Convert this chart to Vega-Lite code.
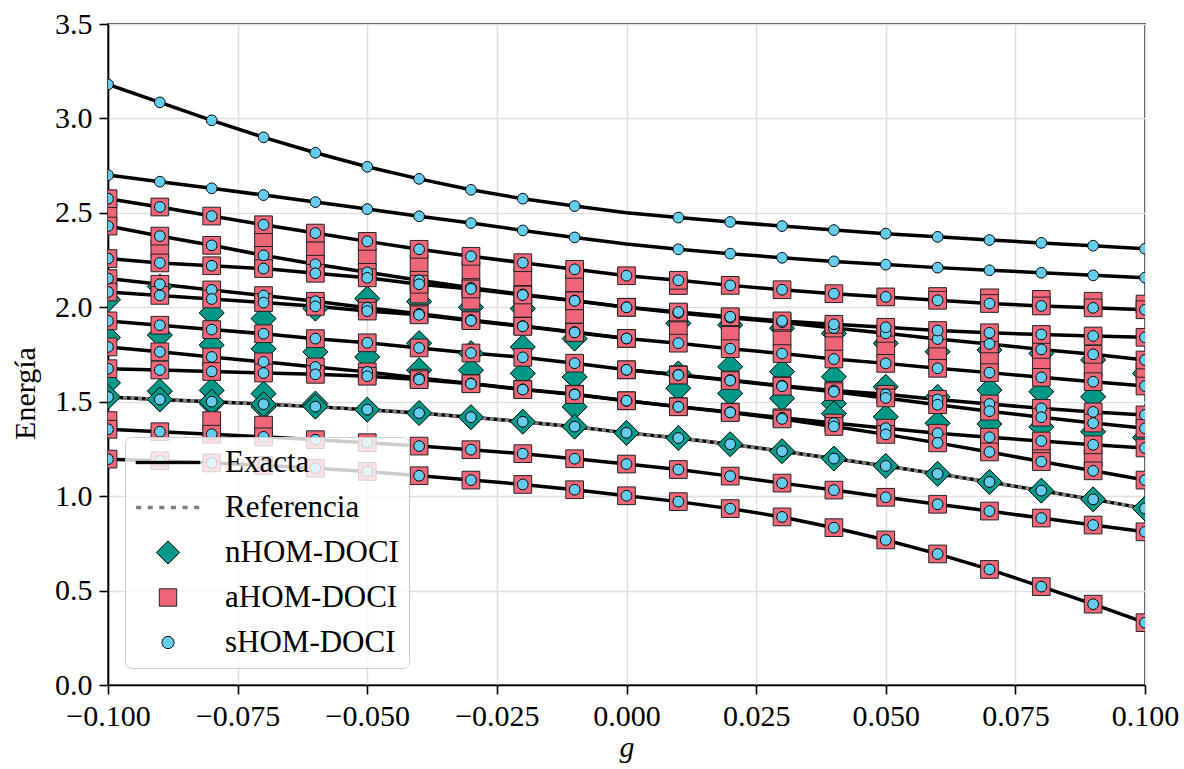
{
  "$schema": "https://vega.github.io/schema/vega-lite/v6.json",
  "width": 1037,
  "height": 661,
  "autosize": {"type": "none"},
  "padding": {"left": 108, "top": 24, "right": 39, "bottom": 84},
  "background": "white",
  "config": {
    "view": {"stroke": "black", "strokeWidth": 1.6},
    "axis": {
      "labelFont": "Liberation Serif", "labelFontSize": 30, "labelColor": "black",
      "titleFont": "Liberation Serif", "titleFontSize": 30, "titleFontWeight": "normal", "titleColor": "black",
      "domainColor": "black", "domainWidth": 1.6,
      "tickColor": "black", "tickWidth": 1.6, "tickSize": 9,
      "labelPadding": 7,
      "grid": true, "gridColor": "#e0e0e0", "gridWidth": 1.6
    }
  },
  "datasets": {
    "exact": [
      {"l":"a","g":-0.1,"e":3.180},{"l":"a","g":-0.09,"e":3.085},{"l":"a","g":-0.08,"e":2.990},{"l":"a","g":-0.07,"e":2.900},{"l":"a","g":-0.06,"e":2.818},{"l":"a","g":-0.05,"e":2.744},{"l":"a","g":-0.04,"e":2.680},{"l":"a","g":-0.03,"e":2.622},{"l":"a","g":-0.02,"e":2.575},{"l":"a","g":-0.01,"e":2.536},{"l":"a","g":0,"e":2.500},{"l":"a","g":0.01,"e":2.475},{"l":"a","g":0.02,"e":2.452},{"l":"a","g":0.03,"e":2.430},{"l":"a","g":0.04,"e":2.409},{"l":"a","g":0.05,"e":2.390},{"l":"a","g":0.06,"e":2.373},{"l":"a","g":0.07,"e":2.356},{"l":"a","g":0.08,"e":2.341},{"l":"a","g":0.09,"e":2.326},{"l":"a","g":0.1,"e":2.310},
      {"l":"b","g":-0.1,"e":2.700},{"l":"b","g":-0.09,"e":2.665},{"l":"b","g":-0.08,"e":2.630},{"l":"b","g":-0.07,"e":2.594},{"l":"b","g":-0.06,"e":2.557},{"l":"b","g":-0.05,"e":2.520},{"l":"b","g":-0.04,"e":2.482},{"l":"b","g":-0.03,"e":2.446},{"l":"b","g":-0.02,"e":2.407},{"l":"b","g":-0.01,"e":2.370},{"l":"b","g":0,"e":2.335},{"l":"b","g":0.01,"e":2.307},{"l":"b","g":0.02,"e":2.284},{"l":"b","g":0.03,"e":2.262},{"l":"b","g":0.04,"e":2.243},{"l":"b","g":0.05,"e":2.226},{"l":"b","g":0.06,"e":2.210},{"l":"b","g":0.07,"e":2.196},{"l":"b","g":0.08,"e":2.183},{"l":"b","g":0.09,"e":2.169},{"l":"b","g":0.1,"e":2.157},
      {"l":"c","g":-0.1,"e":2.575},{"l":"c","g":-0.09,"e":2.531},{"l":"c","g":-0.08,"e":2.483},{"l":"c","g":-0.07,"e":2.437},{"l":"c","g":-0.06,"e":2.393},{"l":"c","g":-0.05,"e":2.349},{"l":"c","g":-0.04,"e":2.307},{"l":"c","g":-0.03,"e":2.270},{"l":"c","g":-0.02,"e":2.236},{"l":"c","g":-0.01,"e":2.201},{"l":"c","g":0,"e":2.167},{"l":"c","g":0.01,"e":2.143},{"l":"c","g":0.02,"e":2.116},{"l":"c","g":0.03,"e":2.093},{"l":"c","g":0.04,"e":2.072},{"l":"c","g":0.05,"e":2.055},{"l":"c","g":0.06,"e":2.037},{"l":"c","g":0.07,"e":2.020},{"l":"c","g":0.08,"e":2.007},{"l":"c","g":0.09,"e":1.997},{"l":"c","g":0.1,"e":1.987},
      {"l":"d","g":-0.1,"e":2.430},{"l":"d","g":-0.09,"e":2.377},{"l":"d","g":-0.08,"e":2.328},{"l":"d","g":-0.07,"e":2.275},{"l":"d","g":-0.06,"e":2.228},{"l":"d","g":-0.05,"e":2.185},{"l":"d","g":-0.04,"e":2.143},{"l":"d","g":-0.03,"e":2.104},{"l":"d","g":-0.02,"e":2.068},{"l":"d","g":-0.01,"e":2.036},{"l":"d","g":0,"e":2.000},{"l":"d","g":0.01,"e":1.970},{"l":"d","g":0.02,"e":1.945},{"l":"d","g":0.03,"e":1.920},{"l":"d","g":0.04,"e":1.890},{"l":"d","g":0.05,"e":1.862},{"l":"d","g":0.06,"e":1.832},{"l":"d","g":0.07,"e":1.806},{"l":"d","g":0.08,"e":1.777},{"l":"d","g":0.09,"e":1.751},{"l":"d","g":0.1,"e":1.721},
      {"l":"e","g":-0.1,"e":2.258},{"l":"e","g":-0.09,"e":2.235},{"l":"e","g":-0.08,"e":2.220},{"l":"e","g":-0.07,"e":2.205},{"l":"e","g":-0.06,"e":2.180},{"l":"e","g":-0.05,"e":2.156},{"l":"e","g":-0.04,"e":2.122},{"l":"e","g":-0.03,"e":2.097},{"l":"e","g":-0.02,"e":2.065},{"l":"e","g":-0.01,"e":2.034},{"l":"e","g":0,"e":2.000},{"l":"e","g":0.01,"e":1.975},{"l":"e","g":0.02,"e":1.950},{"l":"e","g":0.03,"e":1.928},{"l":"e","g":0.04,"e":1.910},{"l":"e","g":0.05,"e":1.894},{"l":"e","g":0.06,"e":1.877},{"l":"e","g":0.07,"e":1.865},{"l":"e","g":0.08,"e":1.856},{"l":"e","g":0.09,"e":1.848},{"l":"e","g":0.1,"e":1.841},
      {"l":"f","g":-0.1,"e":2.152},{"l":"f","g":-0.09,"e":2.122},{"l":"f","g":-0.08,"e":2.092},{"l":"f","g":-0.07,"e":2.062},{"l":"f","g":-0.06,"e":2.032},{"l":"f","g":-0.05,"e":1.998},{"l":"f","g":-0.04,"e":1.966},{"l":"f","g":-0.03,"e":1.933},{"l":"f","g":-0.02,"e":1.901},{"l":"f","g":-0.01,"e":1.869},{"l":"f","g":0,"e":1.835},{"l":"f","g":0.01,"e":1.810},{"l":"f","g":0.02,"e":1.781},{"l":"f","g":0.03,"e":1.755},{"l":"f","g":0.04,"e":1.726},{"l":"f","g":0.05,"e":1.703},{"l":"f","g":0.06,"e":1.677},{"l":"f","g":0.07,"e":1.654},{"l":"f","g":0.08,"e":1.629},{"l":"f","g":0.09,"e":1.606},{"l":"f","g":0.1,"e":1.583},
      {"l":"h","g":-0.1,"e":2.081},{"l":"h","g":-0.09,"e":2.063},{"l":"h","g":-0.08,"e":2.044},{"l":"h","g":-0.07,"e":2.025},{"l":"h","g":-0.06,"e":2.005},{"l":"h","g":-0.05,"e":1.980},{"l":"h","g":-0.04,"e":1.960},{"l":"h","g":-0.03,"e":1.929},{"l":"h","g":-0.02,"e":1.899},{"l":"h","g":-0.01,"e":1.867},{"l":"h","g":0,"e":1.835},
      {"l":"i","g":-0.1,"e":1.928},{"l":"i","g":-0.09,"e":1.905},{"l":"i","g":-0.08,"e":1.882},{"l":"i","g":-0.07,"e":1.860},{"l":"i","g":-0.06,"e":1.834},{"l":"i","g":-0.05,"e":1.812},{"l":"i","g":-0.04,"e":1.785},{"l":"i","g":-0.03,"e":1.758},{"l":"i","g":-0.02,"e":1.735},{"l":"i","g":-0.01,"e":1.704},{"l":"i","g":0,"e":1.669},{"l":"i","g":0.01,"e":1.643},{"l":"i","g":0.02,"e":1.615},{"l":"i","g":0.03,"e":1.585},{"l":"i","g":0.04,"e":1.560},{"l":"i","g":0.05,"e":1.539},{"l":"i","g":0.06,"e":1.512},{"l":"i","g":0.07,"e":1.488},{"l":"i","g":0.08,"e":1.465},{"l":"i","g":0.09,"e":1.446},{"l":"i","g":0.1,"e":1.430},
      {"l":"j","g":0,"e":1.669},{"l":"j","g":0.01,"e":1.641},{"l":"j","g":0.02,"e":1.612},{"l":"j","g":0.03,"e":1.582},{"l":"j","g":0.04,"e":1.553},{"l":"j","g":0.05,"e":1.520},{"l":"j","g":0.06,"e":1.484},{"l":"j","g":0.07,"e":1.450},{"l":"j","g":0.08,"e":1.418},{"l":"j","g":0.09,"e":1.387},{"l":"j","g":0.1,"e":1.359},
      {"l":"k","g":-0.1,"e":1.790},{"l":"k","g":-0.09,"e":1.764},{"l":"k","g":-0.08,"e":1.737},{"l":"k","g":-0.07,"e":1.711},{"l":"k","g":-0.06,"e":1.684},{"l":"k","g":-0.05,"e":1.658},{"l":"k","g":-0.04,"e":1.625},{"l":"k","g":-0.03,"e":1.597},{"l":"k","g":-0.02,"e":1.566},{"l":"k","g":-0.01,"e":1.540},{"l":"k","g":0,"e":1.505},{"l":"k","g":0.01,"e":1.474},{"l":"k","g":0.02,"e":1.445},{"l":"k","g":0.03,"e":1.415},{"l":"k","g":0.04,"e":1.387},{"l":"k","g":0.05,"e":1.360},{"l":"k","g":0.06,"e":1.333},{"l":"k","g":0.07,"e":1.312},{"l":"k","g":0.08,"e":1.292},{"l":"k","g":0.09,"e":1.272},{"l":"k","g":0.1,"e":1.255},
      {"l":"m","g":-0.1,"e":1.675},{"l":"m","g":-0.09,"e":1.668},{"l":"m","g":-0.08,"e":1.660},{"l":"m","g":-0.07,"e":1.652},{"l":"m","g":-0.06,"e":1.645},{"l":"m","g":-0.05,"e":1.635},{"l":"m","g":-0.04,"e":1.617},{"l":"m","g":-0.03,"e":1.595},{"l":"m","g":-0.02,"e":1.564},{"l":"m","g":-0.01,"e":1.538},{"l":"m","g":0,"e":1.505},{"l":"m","g":0.01,"e":1.473},{"l":"m","g":0.02,"e":1.443},{"l":"m","g":0.03,"e":1.409},{"l":"m","g":0.04,"e":1.369},{"l":"m","g":0.05,"e":1.327},{"l":"m","g":0.06,"e":1.282},{"l":"m","g":0.07,"e":1.234},{"l":"m","g":0.08,"e":1.183},{"l":"m","g":0.09,"e":1.134},{"l":"m","g":0.1,"e":1.085},
      {"l":"r","g":-0.1,"e":1.525},{"l":"r","g":-0.09,"e":1.512},{"l":"r","g":-0.08,"e":1.500},{"l":"r","g":-0.07,"e":1.487},{"l":"r","g":-0.06,"e":1.474},{"l":"r","g":-0.05,"e":1.458},{"l":"r","g":-0.04,"e":1.440},{"l":"r","g":-0.03,"e":1.418},{"l":"r","g":-0.02,"e":1.394},{"l":"r","g":-0.01,"e":1.368},{"l":"r","g":0,"e":1.335},{"l":"r","g":0.01,"e":1.308},{"l":"r","g":0.02,"e":1.275},{"l":"r","g":0.03,"e":1.238},{"l":"r","g":0.04,"e":1.199},{"l":"r","g":0.05,"e":1.160},{"l":"r","g":0.06,"e":1.118},{"l":"r","g":0.07,"e":1.075},{"l":"r","g":0.08,"e":1.029},{"l":"r","g":0.09,"e":0.983},{"l":"r","g":0.1,"e":0.935},
      {"l":"y","g":-0.1,"e":1.354},{"l":"y","g":-0.09,"e":1.341},{"l":"y","g":-0.08,"e":1.328},{"l":"y","g":-0.07,"e":1.314},{"l":"y","g":-0.06,"e":1.299},{"l":"y","g":-0.05,"e":1.283},{"l":"y","g":-0.04,"e":1.265},{"l":"y","g":-0.03,"e":1.246},{"l":"y","g":-0.02,"e":1.225},{"l":"y","g":-0.01,"e":1.198},{"l":"y","g":0,"e":1.170},{"l":"y","g":0.01,"e":1.141},{"l":"y","g":0.02,"e":1.106},{"l":"y","g":0.03,"e":1.069},{"l":"y","g":0.04,"e":1.032},{"l":"y","g":0.05,"e":0.994},{"l":"y","g":0.06,"e":0.957},{"l":"y","g":0.07,"e":0.921},{"l":"y","g":0.08,"e":0.884},{"l":"y","g":0.09,"e":0.847},{"l":"y","g":0.1,"e":0.811},
      {"l":"z","g":-0.1,"e":1.196},{"l":"z","g":-0.09,"e":1.187},{"l":"z","g":-0.08,"e":1.176},{"l":"z","g":-0.07,"e":1.163},{"l":"z","g":-0.06,"e":1.148},{"l":"z","g":-0.05,"e":1.131},{"l":"z","g":-0.04,"e":1.108},{"l":"z","g":-0.03,"e":1.085},{"l":"z","g":-0.02,"e":1.062},{"l":"z","g":-0.01,"e":1.034},{"l":"z","g":0,"e":1.002},{"l":"z","g":0.01,"e":0.971},{"l":"z","g":0.02,"e":0.934},{"l":"z","g":0.03,"e":0.890},{"l":"z","g":0.04,"e":0.833},{"l":"z","g":0.05,"e":0.768},{"l":"z","g":0.06,"e":0.694},{"l":"z","g":0.07,"e":0.612},{"l":"z","g":0.08,"e":0.521},{"l":"z","g":0.09,"e":0.428},{"l":"z","g":0.1,"e":0.330}
    ],
    "dia": [
      {"g":-0.1,"e":2.04},{"g":-0.1,"e":1.84},{"g":-0.1,"e":1.60},
      {"g":-0.09,"e":2.11},{"g":-0.09,"e":1.853},{"g":-0.09,"e":1.556},
      {"g":-0.08,"e":1.97},{"g":-0.08,"e":1.80},{"g":-0.08,"e":1.56},{"g":-0.08,"e":1.49},
      {"g":-0.07,"e":1.94},{"g":-0.07,"e":1.78},{"g":-0.07,"e":1.543},{"g":-0.07,"e":1.473},
      {"g":-0.06,"e":1.993},{"g":-0.06,"e":1.764},{"g":-0.06,"e":1.49},
      {"g":-0.05,"e":2.046},{"g":-0.05,"e":1.737},
      {"g":-0.04,"e":2.03},{"g":-0.04,"e":1.81},{"g":-0.04,"e":1.667},
      {"g":-0.03,"e":2.0},{"g":-0.03,"e":1.757},{"g":-0.03,"e":1.667},
      {"g":-0.02,"e":1.993},{"g":-0.02,"e":1.79},{"g":-0.02,"e":1.65},
      {"g":-0.01,"e":1.834},{"g":-0.01,"e":1.631},{"g":-0.01,"e":1.473},
      {"g":0.01,"e":1.915},{"g":0.01,"e":1.65},{"g":0.01,"e":1.571},
      {"g":0.02,"e":1.906},{"g":0.02,"e":1.685},{"g":0.02,"e":1.544},
      {"g":0.03,"e":1.889},{"g":0.03,"e":1.659},{"g":0.03,"e":1.518},
      {"g":0.04,"e":1.862},{"g":0.04,"e":1.632},{"g":0.04,"e":1.49},{"g":0.04,"e":1.437},
      {"g":0.05,"e":1.809},{"g":0.05,"e":1.579},{"g":0.05,"e":1.42},
      {"g":0.06,"e":1.765},{"g":0.06,"e":1.526},{"g":0.06,"e":1.386},
      {"g":0.07,"e":1.774},{"g":0.07,"e":1.562},{"g":0.07,"e":1.382},
      {"g":0.08,"e":1.756},{"g":0.08,"e":1.553},{"g":0.08,"e":1.367},
      {"g":0.09,"e":1.721},{"g":0.09,"e":1.526},{"g":0.09,"e":1.341},
      {"g":0.1,"e":1.65},{"g":0.1,"e":1.311}
    ],
    "sq": [
      {"g":-0.1,"e":2.50},{"g":-0.1,"e":1.40},
      {"g":-0.09,"e":2.31},
      {"g":-0.08,"e":1.40},
      {"g":-0.07,"e":2.356},{"g":-0.07,"e":1.376},
      {"g":-0.06,"e":2.30},
      {"g":-0.05,"e":2.266},
      {"g":-0.04,"e":2.23},{"g":-0.04,"e":2.07},
      {"g":-0.03,"e":2.197},{"g":-0.03,"e":2.037},
      {"g":-0.02,"e":2.16},{"g":-0.02,"e":1.99},
      {"g":-0.01,"e":2.127},{"g":-0.01,"e":1.96},
      {"g":0.01,"e":2.115},{"g":0.01,"e":1.896},
      {"g":0.02,"e":1.871},
      {"g":0.03,"e":1.844},
      {"g":0.04,"e":1.818},
      {"g":0.05,"e":1.783},
      {"g":0.06,"e":1.756},{"g":0.06,"e":2.057},
      {"g":0.07,"e":1.724},{"g":0.07,"e":2.05},{"g":0.07,"e":1.27},
      {"g":0.08,"e":1.703},{"g":0.08,"e":2.042},{"g":0.08,"e":1.218},
      {"g":0.09,"e":1.676},{"g":0.09,"e":2.032},{"g":0.09,"e":1.20},
      {"g":0.1,"e":1.659},{"g":0.1,"e":2.017}
    ]
  },
  "encoding": {
    "x": {"field": "g", "type": "quantitative",
      "scale": {"domain": [-0.1, 0.1], "nice": false, "zero": false},
      "axis": {"title": "g", "titleFontStyle": "italic", "values": [-0.1, -0.075, -0.05, -0.025, 0, 0.025, 0.05, 0.075, 0.1], "format": ".3f", "labelFlush": false, "labelOverlap": false, "titlePadding": 1}},
    "y": {"field": "e", "type": "quantitative",
      "scale": {"domain": [0, 3.5], "nice": false, "zero": false},
      "axis": {"title": "Energía", "titleY": 369, "values": [0, 0.5, 1, 1.5, 2, 2.5, 3, 3.5], "format": ".1f", "labelOverlap": false, "titlePadding": 14}}
  },
  "layer": [
    {"data": {"name": "exact"},
     "mark": {"type": "line", "color": "black", "strokeWidth": 3.5, "clip": true},
     "encoding": {"detail": {"field": "l"}}},
    {"data": {"name": "exact"},
     "transform": [{"filter": "datum.l === 'r'"}],
     "mark": {"type": "line", "color": "#808080", "strokeWidth": 3.5, "strokeDash": [4, 3.5], "clip": true},
     "encoding": {}},
    {"data": {"name": "dia"},
     "mark": {"type": "point", "filled": true, "strokeWidth": 1, "opacity": 1, "size": 977, "clip": true},
     "encoding": {
       "shape": {"datum": "nHOM-DOCI",
         "scale": {"domain": ["Exacta", "Referencia", "nHOM-DOCI", "aHOM-DOCI", "sHOM-DOCI"],
           "range": ["M-2.2,-0.08H2.2V0.08H-2.2Z",
             "M-2.2,-0.12h0.35v0.24h-0.35zM-1.4,-0.12h0.35v0.24h-0.35zM-0.6,-0.12h0.35v0.24h-0.35zM0.2,-0.12h0.35v0.24h-0.35zM1,-0.12h0.35v0.24h-0.35zM1.8,-0.12h0.35v0.24h-0.35z",
             "M-0.8,0L0,-0.8L0.8,0L0,0.8Z",
             "M-0.6,-0.6H0.6V0.6H-0.6Z",
             "M0.42,0L0.3994,0.1298L0.3398,0.2469L0.2469,0.3398L0.1298,0.3994L0,0.42L-0.1298,0.3994L-0.2469,0.3398L-0.3398,0.2469L-0.3994,0.1298L-0.42,0L-0.3994,-0.1298L-0.3398,-0.2469L-0.2469,-0.3398L-0.1298,-0.3994L0,-0.42L0.1298,-0.3994L0.2469,-0.3398L0.3398,-0.2469L0.3994,-0.1298Z"]},
         "legend": {"title": null, "orient": "none", "legendX": 17, "legendY": 413, "padding": 10, "rowPadding": 13,
           "symbolOffset": 17.5, "labelOffset": 41.5, "labelLimit": 0, "symbolSize": 841, "symbolStrokeWidth": 1,
           "labelFont": "Liberation Serif", "labelFontSize": 31, "labelColor": "black",
           "fillColor": "rgba(255,255,255,0.8)", "strokeColor": "#cccccc", "cornerRadius": 6}},
       "fill": {"datum": "nHOM-DOCI",
         "scale": {"domain": ["Exacta", "Referencia", "nHOM-DOCI", "aHOM-DOCI", "sHOM-DOCI"],
           "range": ["black", "#808080", "#009988", "#EE6677", "#66CCEE"]},
         "legend": {"title": null, "orient": "none", "legendX": 17, "legendY": 413, "padding": 10, "rowPadding": 13,
           "symbolOffset": 17.5, "labelOffset": 41.5, "labelLimit": 0, "symbolSize": 841, "symbolStrokeWidth": 1,
           "labelFont": "Liberation Serif", "labelFontSize": 31, "labelColor": "black",
           "fillColor": "rgba(255,255,255,0.8)", "strokeColor": "#cccccc", "cornerRadius": 6}},
       "stroke": {"datum": "nHOM-DOCI",
         "scale": {"domain": ["Exacta", "Referencia", "nHOM-DOCI", "aHOM-DOCI", "sHOM-DOCI"],
           "range": ["black", "transparent", "black", "#222222", "black"]},
         "legend": {"title": null, "orient": "none", "legendX": 17, "legendY": 413, "padding": 10, "rowPadding": 13,
           "symbolOffset": 17.5, "labelOffset": 41.5, "labelLimit": 0, "symbolSize": 841, "symbolStrokeWidth": 1,
           "labelFont": "Liberation Serif", "labelFontSize": 31, "labelColor": "black",
           "fillColor": "rgba(255,255,255,0.8)", "strokeColor": "#cccccc", "cornerRadius": 6}}
     }},
    {"data": {"name": "exact"},
     "transform": [{"filter": "datum.l === 'r'"}],
     "mark": {"type": "point", "filled": true, "strokeWidth": 1, "opacity": 1, "size": 977, "clip": true},
     "encoding": {"shape": {"datum": "nHOM-DOCI"}, "fill": {"datum": "nHOM-DOCI"}, "stroke": {"datum": "nHOM-DOCI"}}},
    {"data": {"name": "sq"},
     "mark": {"type": "point", "filled": true, "strokeWidth": 1, "opacity": 1, "size": 870, "clip": true},
     "encoding": {"shape": {"datum": "aHOM-DOCI"}, "fill": {"datum": "aHOM-DOCI"}, "stroke": {"datum": "aHOM-DOCI"}}},
    {"data": {"name": "exact"},
     "transform": [{"filter": "datum.l !== 'a' && datum.l !== 'b' && datum.l !== 'r'"}],
     "mark": {"type": "point", "filled": true, "strokeWidth": 1, "opacity": 1, "size": 870, "clip": true},
     "encoding": {"shape": {"datum": "aHOM-DOCI"}, "fill": {"datum": "aHOM-DOCI"}, "stroke": {"datum": "aHOM-DOCI"}}},
    {"data": {"name": "exact"},
     "transform": [{"filter": "!((datum.l === 'a' || datum.l === 'b') && datum.g === 0)"}],
     "mark": {"type": "point", "filled": true, "strokeWidth": 1, "opacity": 1, "size": 650, "clip": true},
     "encoding": {"shape": {"datum": "sHOM-DOCI"}, "fill": {"datum": "sHOM-DOCI"}, "stroke": {"datum": "sHOM-DOCI"}}}
  ]
}
